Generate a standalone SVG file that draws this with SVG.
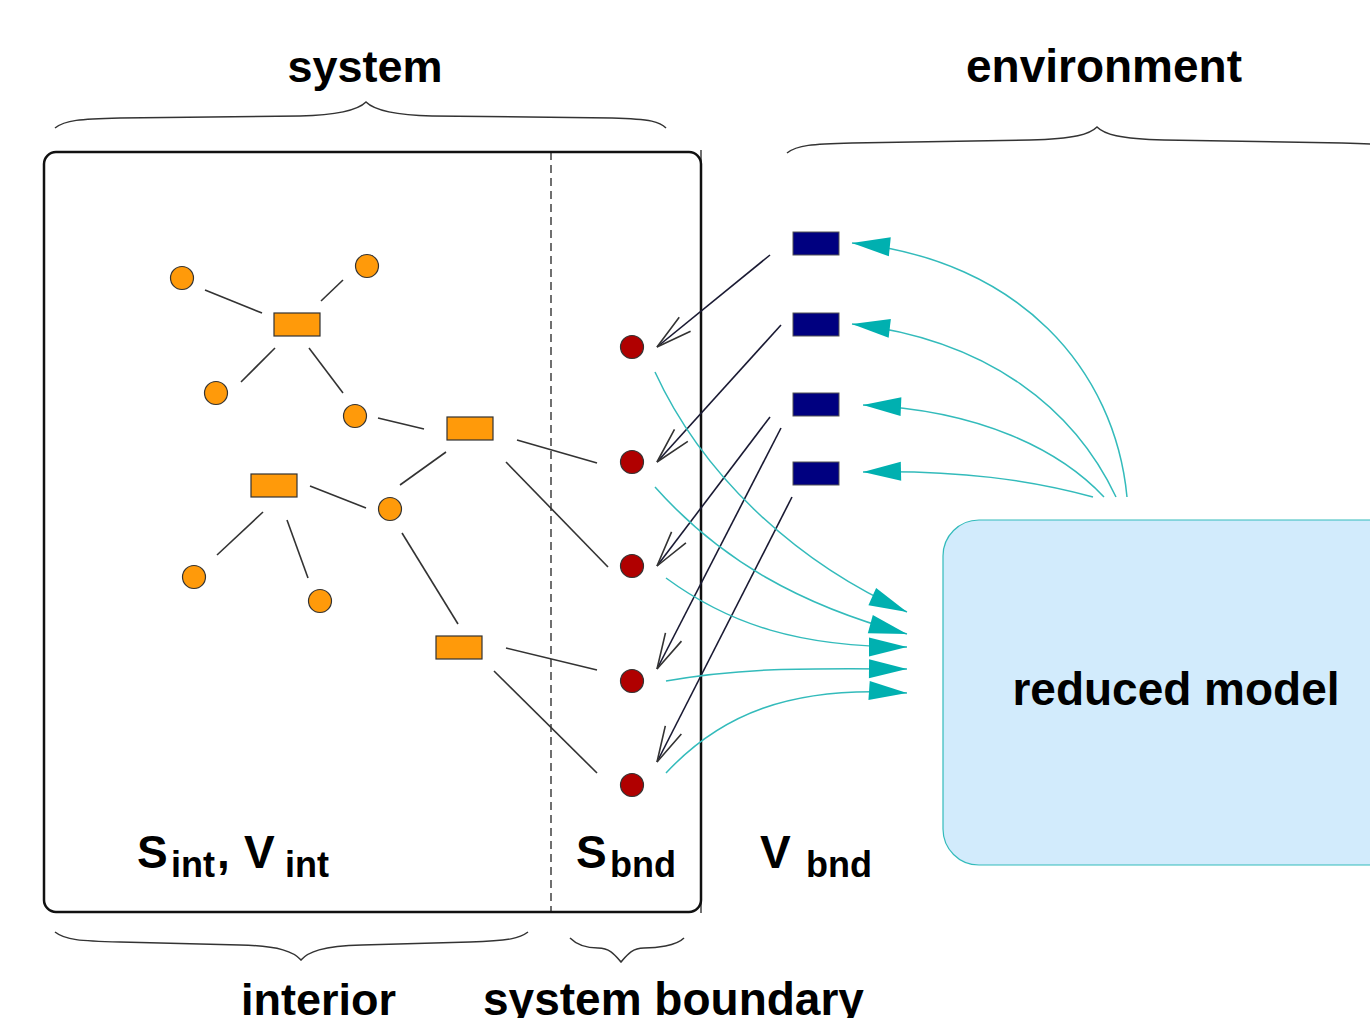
<svg xmlns="http://www.w3.org/2000/svg" width="1370" height="1018" viewBox="0 0 1370 1018">
<style>
text{font-family:"Liberation Sans",Arial,sans-serif;font-weight:bold;fill:#000}
.big{font-size:45px}
.sub{font-size:36px}
.lab{font-size:46px}
.brace{fill:none;stroke:#333;stroke-width:1.5}
.edge{stroke:#333;stroke-width:1.6;fill:none}
.onode{fill:#ff9a0a;stroke:#333;stroke-width:1.2}
.rnode{fill:#b00000;stroke:#333;stroke-width:1.2}
.bnode{fill:#000080;stroke:#555;stroke-width:1}
.barrow{stroke:#1a1a33;stroke-width:1.6;fill:none;marker-end:url(#open)}
.tarrow{stroke:#33bbbb;stroke-width:1.5;fill:none;marker-end:url(#tri)}
</style>
<defs>
<marker id="open" markerUnits="userSpaceOnUse" viewBox="-40 -12 42 24" markerWidth="42" markerHeight="24" refX="0" refY="0" orient="auto" overflow="visible">
<path d="M-36,-9 L0,0 L-36,9" fill="none" stroke="#333" stroke-width="1.6"/>
</marker>
<marker id="tri" markerUnits="userSpaceOnUse" viewBox="0 0 38 20" markerWidth="38" markerHeight="20" refX="38" refY="10" orient="auto" overflow="visible">
<path d="M0,0.5 L38,10 L0,19.5 z" fill="#00b0b0"/>
</marker>
</defs>

<g id="labels">
<text class="big" x="365" y="82" text-anchor="middle">system</text>
<text class="lab" x="1104" y="82" text-anchor="middle">environment</text>
<text class="big" x="241" y="1015">interior</text>
<text class="lab" x="483" y="1015">system boundary</text>
<text class="lab" x="137" y="868">S</text>
<text class="sub" x="171" y="877">int</text>
<text class="lab" x="217" y="868">,</text>
<text class="lab" x="244" y="868">V</text>
<text class="sub" x="285" y="877">int</text>
<text class="lab" x="576" y="868">S</text>
<text class="sub" x="610" y="877">bnd</text>
<text class="lab" x="760" y="868">V</text>
<text class="sub" x="806" y="877">bnd</text>
</g>

<g id="braces">
<path class="brace" d="M55,128 C65,120 80,119 120,118 L300,116 C340,115 358,110 366,102 C374,110 392,115 432,116 L612,118 C652,119 660,122 666,128"/>
<path class="brace" d="M787,153 C797,145 812,144 852,143 L1030,140 C1075,139 1090,134 1097,127 C1104,134 1119,139 1164,140 L1342,143 C1382,144 1397,145 1407,153"/>
<path class="brace" d="M55,932 C65,940 80,941 120,942 L240,945 C280,946 294,952 301,960 C308,952 322,946 362,945 L470,942 C510,941 520,938 528,932"/>
<path class="brace" d="M570,938 C578,946 588,948 598,948 C610,948 615,955 621,962 C627,955 632,948 644,948 C656,948 676,946 684,938"/>
</g>

<g id="system-box">
<rect x="44" y="152" width="657" height="760" rx="12" fill="none" stroke="#111" stroke-width="2.5"/>
<line x1="701" y1="150" x2="701" y2="913" stroke="#111" stroke-width="1.2"/>
<line x1="551" y1="152" x2="551" y2="912" stroke="#111" stroke-width="1.2" stroke-dasharray="8,5"/>
</g>

<g id="reduced-model">
<rect x="943" y="520" width="480" height="345" rx="36" fill="#d2ebfc" stroke="#33bbbb" stroke-width="1.2"/>
<text class="lab" x="1176" y="705" text-anchor="middle">reduced model</text>
</g>

<g id="connectors">
<line class="edge" x1="205" y1="290" x2="262" y2="313"/>
<line class="edge" x1="321" y1="301" x2="343" y2="280"/>
<line class="edge" x1="275" y1="348" x2="241" y2="382"/>
<line class="edge" x1="309" y1="348" x2="343" y2="393"/>
<line class="edge" x1="378" y1="418" x2="424" y2="429"/>
<line class="edge" x1="400" y1="485" x2="446" y2="452"/>
<line class="edge" x1="506" y1="462" x2="608" y2="567"/>
<line class="edge" x1="517" y1="440" x2="597" y2="463"/>
<line class="edge" x1="310" y1="486" x2="366" y2="508"/>
<line class="edge" x1="263" y1="512" x2="217" y2="555"/>
<line class="edge" x1="287" y1="520" x2="308" y2="578"/>
<line class="edge" x1="402" y1="533" x2="458" y2="624"/>
<line class="edge" x1="506" y1="648" x2="597" y2="670"/>
<line class="edge" x1="494" y1="671" x2="597" y2="773"/>

<line class="barrow" x1="770" y1="255" x2="657" y2="347"/>
<line class="barrow" x1="781" y1="325" x2="657" y2="462"/>
<line class="barrow" x1="770" y1="417" x2="657" y2="566"/>
<line class="barrow" x1="781" y1="428" x2="657" y2="669"/>
<line class="barrow" x1="792" y1="497" x2="657" y2="762"/>

<path class="tarrow" d="M655,372 C700,470 790,560 907,612"/>
<path class="tarrow" d="M655,487 C720,560 800,605 907,634"/>
<path class="tarrow" d="M666,578 C730,625 800,647 907,647"/>
<path class="tarrow" d="M666,681 C740,668 800,668 907,669"/>
<path class="tarrow" d="M666,773 C720,715 790,685 907,693"/>

<path class="tarrow" d="M1127,497 C1115,370 1020,260 852,243"/>
<path class="tarrow" d="M1116,497 C1075,410 990,340 852,324"/>
<path class="tarrow" d="M1104,497 C1060,450 980,410 863,405"/>
<path class="tarrow" d="M1093,497 C1030,480 960,470 863,472"/>
</g>

<g id="interior-nodes">
<circle id="c1" class="onode" cx="182" cy="278" r="11.5"/>
<circle id="c2" class="onode" cx="367" cy="266" r="11.5"/>
<circle id="c3" class="onode" cx="216" cy="393" r="11.5"/>
<circle id="c4" class="onode" cx="355" cy="416" r="11.5"/>
<circle id="c5" class="onode" cx="390" cy="509" r="11.5"/>
<circle id="c6" class="onode" cx="194" cy="577" r="11.5"/>
<circle id="c7" class="onode" cx="320" cy="601" r="11.5"/>
<rect id="r1" class="onode" x="274" y="313" width="46" height="23"/>
<rect id="r2" class="onode" x="447" y="417" width="46" height="23"/>
<rect id="r3" class="onode" x="251" y="474" width="46" height="23"/>
<rect id="r4" class="onode" x="436" y="636" width="46" height="23"/>
</g>

<g id="boundary-nodes">
<circle id="b1" class="rnode" cx="632" cy="347" r="11.5"/>
<circle id="b2" class="rnode" cx="632" cy="462" r="11.5"/>
<circle id="b3" class="rnode" cx="632" cy="566" r="11.5"/>
<circle id="b4" class="rnode" cx="632" cy="681" r="11.5"/>
<circle id="b5" class="rnode" cx="632" cy="785" r="11.5"/>
</g>

<g id="environment-nodes">
<rect id="e1" class="bnode" x="793" y="232" width="46" height="23"/>
<rect id="e2" class="bnode" x="793" y="313" width="46" height="23"/>
<rect id="e3" class="bnode" x="793" y="393" width="46" height="23"/>
<rect id="e4" class="bnode" x="793" y="462" width="46" height="23"/>
</g>
</svg>
